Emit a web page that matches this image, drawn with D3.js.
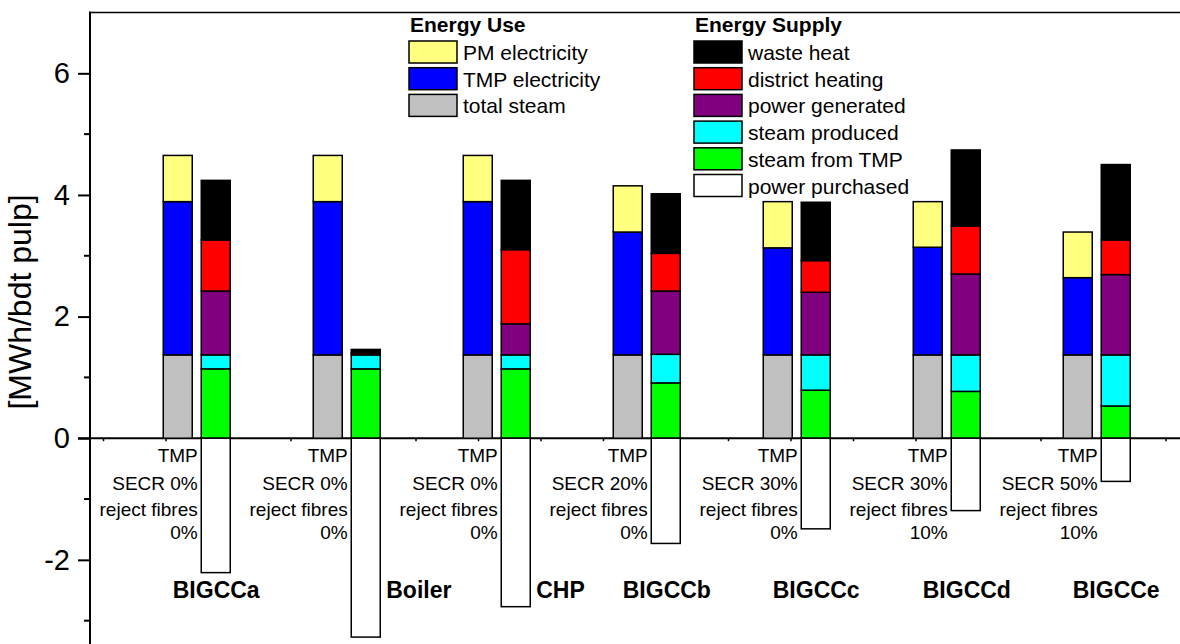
<!DOCTYPE html>
<html lang="en">
<head>
	<title>Energy use and supply per case</title>
	<meta http-equiv="content-type" content="text/html;charset=utf-8" />
    <script src="https://d3js.org/d3.v7.min.js" charset="utf-8"></script>
	<style type="text/css">
        body { margin: 0; background: #fff; }
        text { font-family: "Liberation Sans", Arial, sans-serif; fill: #000; }
        .bar { stroke: #000; stroke-width: 1.5; }
        .frame { stroke: #000; stroke-width: 2; fill: none; }
        .tick line { stroke: #000; stroke-width: 2; }
    </style>
</head>

<body>
    <div id="area"></div>

    <script>
        // cases along the x axis
        var cases = ["BIGCCa", "Boiler", "CHP", "BIGCCb", "BIGCCc", "BIGCCd", "BIGCCe"]
        var secrLabels = ["0%", "0%", "0%", "20%", "30%", "30%", "50%"]
        var rejectLabels = ["0%", "0%", "0%", "0%", "0%", "10%", "10%"]

        // energy use [MWh/bdt pulp], bottom to top
        var totalSteam = [1.37, 1.37, 1.37, 1.37, 1.37, 1.37, 1.37]
        var tmpElectricity = [2.52, 2.52, 2.52, 2.02, 1.76, 1.77, 1.27]
        var pmElectricity = [0.76, 0.76, 0.76, 0.76, 0.76, 0.75, 0.75]

        // energy supply [MWh/bdt pulp], bottom to top
        var steamFromTMP = [1.14, 1.14, 1.14, 0.91, 0.79, 0.77, 0.53]
        var steamProduced = [0.23, 0.23, 0.23, 0.47, 0.58, 0.60, 0.84]
        var powerGenerated = [1.05, 0, 0.51, 1.04, 1.03, 1.33, 1.32]
        var districtHeating = [0.84, 0.03, 1.22, 0.62, 0.52, 0.79, 0.57]
        var wasteHeat = [0.98, 0.06, 1.14, 0.98, 0.96, 1.25, 1.24]
        var powerPurchased = [-2.21, -3.27, -2.77, -1.73, -1.49, -1.19, -0.71]

        var yTicks = [-2, 0, 2, 4, 6]
        var yMinorTicks = [-3, -1, 1, 3, 5]

        var useKeys = ["total steam", "TMP electricity", "PM electricity"]
        var supplyKeys = ["steam from TMP", "steam produced", "power generated", "district heating", "waste heat"]
        var colors = {
            "PM electricity": "#ffff80",
            "TMP electricity": "#0000ff",
            "total steam": "#c0c0c0",
            "waste heat": "#000000",
            "district heating": "#ff0000",
            "power generated": "#800080",
            "steam produced": "#00ffff",
            "steam from TMP": "#00ff00",
            "power purchased": "#ffffff"
        }

        var W = 1180, H = 644
        var axisX = 90

        var svg = d3.select("#area")
                    .append("svg")
                        .attr("width", W)
                        .attr("height", H)

        var y = d3.scaleLinear().domain([-3.4, 7]).range([645, 12.5])
        // x in plot units; one unit = spacing of the small ticks on the zero line
        var x = d3.scaleLinear().domain([0, 1]).range([103, 165.5])
        var groupX = function(i) { return x(1.5 + 2.4 * i) }
        var barW = 29, barOff = 19

        var useRows = cases.map(function(c, i) {
            return {"total steam": totalSteam[i], "TMP electricity": tmpElectricity[i], "PM electricity": pmElectricity[i]}
        })
        var supplyRows = cases.map(function(c, i) {
            return {"steam from TMP": steamFromTMP[i], "steam produced": steamProduced[i],
                    "power generated": powerGenerated[i], "district heating": districtHeating[i],
                    "waste heat": wasteHeat[i]}
        })
        var useStack = d3.stack().keys(useKeys)(useRows)
        var supplyStack = d3.stack().keys(supplyKeys)(supplyRows)

        // zero line with its small ticks
        svg.append("line")
            .attr("class", "frame")
            .attr("x1", axisX - 12).attr("x2", W)
            .attr("y1", y(0)).attr("y2", y(0))
        svg.append("g")
            .attr("transform", "translate(0," + y(0) + ")")
            .call(d3.axisBottom(x).tickValues(d3.range(0, 18)).tickSize(3).tickFormat(""))
            .call(function(g) { g.select(".domain").remove() })
            .selectAll("line").style("stroke-width", 1.5)

        // top frame line
        svg.append("line")
            .attr("class", "frame")
            .attr("x1", axisX).attr("x2", W)
            .attr("y1", y(7)).attr("y2", y(7))
            .style("stroke-width", 1.5)

        // energy use bars
        svg.selectAll(".useLayer")
                .data(useStack)
                .enter()
                .append("g")
                    .attr("class", "useLayer")
                    .attr("fill", function(d) { return colors[d.key] })
                .selectAll("rect")
                .data(function(d) { return d })
                .enter()
                .append("rect")
                    .attr("class", "bar")
                    .attr("x", function(d, i) { return groupX(i) - barOff - barW / 2 })
                    .attr("width", barW)
                    .attr("y", function(d) { return y(d[1]) })
                    .attr("height", function(d) { return y(d[0]) - y(d[1]) })

        // energy supply bars
        svg.selectAll(".supplyLayer")
                .data(supplyStack)
                .enter()
                .append("g")
                    .attr("class", "supplyLayer")
                    .attr("fill", function(d) { return colors[d.key] })
                .selectAll("rect")
                .data(function(d) { return d })
                .enter()
                .append("rect")
                    .attr("class", "bar")
                    .attr("x", function(d, i) { return groupX(i) + barOff - barW / 2 })
                    .attr("width", barW)
                    .attr("y", function(d) { return y(d[1]) })
                    .attr("height", function(d) { return y(d[0]) - y(d[1]) })

        // power purchased, below zero
        svg.selectAll(".purchased")
                .data(powerPurchased)
                .enter()
                .append("rect")
                    .attr("class", "bar purchased")
                    .attr("fill", colors["power purchased"])
                    .attr("x", function(d, i) { return groupX(i) + barOff - barW / 2 })
                    .attr("width", barW)
                    .attr("y", y(0))
                    .attr("height", function(d) { return y(d) - y(0) })

        // case annotations
        var noteLines = function(i) { return ["TMP", "SECR " + secrLabels[i], "reject fibres", rejectLabels[i]] }
        var noteBase = [462, 489.5, 516, 538.5]
        cases.forEach(function(c, i) {
            svg.append("g")
                .selectAll("text")
                .data(noteLines(i))
                .enter()
                .append("text")
                    .attr("x", groupX(i) + barOff - barW / 2 - 3.5)
                    .attr("y", function(d, k) { return noteBase[k] })
                    .attr("text-anchor", "end")
                    .style("font-size", "19px")
                    .text(function(d) { return d })
        })

        svg.selectAll(".caseName")
                .data(cases)
                .enter()
                .append("text")
                    .attr("class", "caseName")
                    .attr("x", function(d, i) {
                        // BIGCC names sit under the supply bar, the others right of it
                        return d.indexOf("BIGCC") == 0 ? groupX(i) - 24 : groupX(i) + barOff + barW / 2 + 6
                    })
                    .attr("y", 598)
                    .style("font-size", "23px")
                    .style("font-weight", "bold")
                    .text(function(d) { return d })

        // y axis
        var yAxis = svg.append("g")
            .attr("transform", "translate(" + axisX + ",0)")
        yAxis.call(d3.axisLeft(y).tickValues(yTicks).tickSize(12).tickPadding(8).tickFormat(function(d) { return String(d) }))
            .call(function(g) { g.select(".domain").remove() })
            .selectAll("text")
                .style("font-size", "29px")
                .style("font-family", "Liberation Sans, Arial, sans-serif")
        yAxis.selectAll(".minor")
                .data(yMinorTicks)
                .enter()
                .append("line")
                    .attr("class", "minor")
                    .attr("x1", -6).attr("x2", 0)
                    .attr("y1", function(d) { return y(d) })
                    .attr("y2", function(d) { return y(d) })
                    .style("stroke", "#000").style("stroke-width", 2)
        svg.append("line")
            .attr("class", "frame")
            .attr("x1", axisX).attr("x2", axisX)
            .attr("y1", y(7) - 1).attr("y2", H)

        svg.append("text")
            .attr("transform", "translate(31,302) rotate(-90)")
            .attr("text-anchor", "middle")
            .style("font-size", "32px")
            .text("[MWh/bdt pulp]")

        // legends
        var drawLegend = function(title, keys, lx, ly) {
            var g = svg.append("g").attr("transform", "translate(" + lx + "," + ly + ")")
            g.append("text")
                .attr("x", 1).attr("y", -9)
                .style("font-size", "21px")
                .style("font-weight", "bold")
                .text(title)
            var row = g.selectAll(".row")
                .data(keys)
                .enter()
                .append("g")
                    .attr("class", "row")
                    .attr("transform", function(d, i) { return "translate(0," + (i * 26.7) + ")" })
            row.append("rect")
                .attr("width", 48).attr("height", 22)
                .attr("fill", function(d) { return colors[d] })
                .style("stroke", "#000").style("stroke-width", 1.5)
            row.append("text")
                .attr("x", 54).attr("y", 19)
                .style("font-size", "21px")
                .text(function(d) { return d })
        }
        drawLegend("Energy Use", ["PM electricity", "TMP electricity", "total steam"], 409, 41)
        drawLegend("Energy Supply", ["waste heat", "district heating", "power generated", "steam produced", "steam from TMP", "power purchased"], 694, 41)
	</script>
</body>

</html>
